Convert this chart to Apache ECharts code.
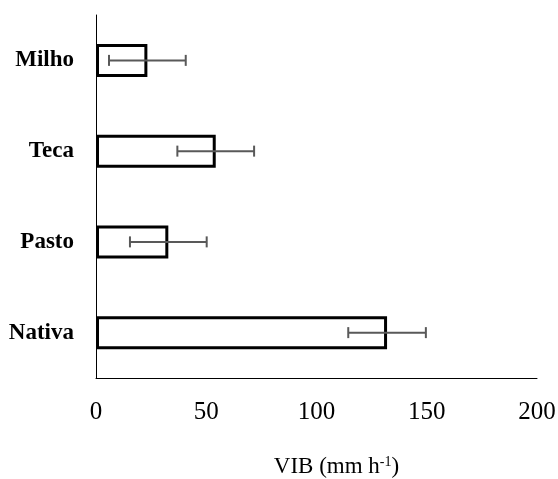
<!DOCTYPE html>
<html>
<head>
    <meta charset="utf-8">
    <title>VIB</title>
    <script src="https://cdn.jsdelivr.net/npm/echarts@6/dist/echarts.min.js"></script>
</head>
<body style="margin:0;background:#fff;">
    <div id="main" style="width:558px;height:479px;"></div>
    <script>
        // dados
        var categories = ['Milho', 'Teca', 'Pasto', 'Nativa'];
        var vibMean = [23.3, 54.3, 32.8, 132.0];
        var vibError = [17.4, 17.4, 17.4, 17.6];
        var xTicks = [0, 50, 100, 150, 200];

        var myChart = echarts.init(document.getElementById('main'));

        var errData = categories.map(function (c, i) {
            return [vibMean[i] - vibError[i], vibMean[i] + vibError[i], i];
        });

        var option = {
            animation: false,
            grid: { left: 96, right: 21, top: 15, bottom: 101, outerBoundsMode: 'none' },
            xAxis: {
                type: 'value',
                min: xTicks[0],
                max: xTicks[xTicks.length - 1],
                interval: xTicks[1] - xTicks[0],
                axisLine: { show: true, lineStyle: { color: '#000', width: 1 } },
                axisTick: { show: false },
                splitLine: { show: false },
                axisLabel: { color: '#000', fontFamily: 'Liberation Serif', fontSize: 25, margin: 22 },
                name: '{a|VIB (mm h}{s|-1}{a|)}',
                nameLocation: 'middle',
                nameGap: 77,
                nameTextStyle: {
                    padding: [0, 0, 0, 40],
                    rich: {
                        a: { color: '#000', fontFamily: 'Liberation Serif', fontSize: 23 },
                        s: { color: '#000', fontFamily: 'Liberation Serif', fontSize: 14, padding: [0, 0, 10, 0] }
                    }
                }
            },
            yAxis: {
                type: 'category',
                data: categories,
                inverse: true,
                axisLine: { show: true, lineStyle: { color: '#000', width: 1 } },
                axisTick: { show: false },
                axisLabel: { color: '#000', fontFamily: 'Liberation Serif', fontWeight: 'bold', fontSize: 23, margin: 22 }
            },
            series: [
                {
                    type: 'bar',
                    data: vibMean,
                    barWidth: 33,
                    itemStyle: { color: '#fff', borderColor: '#000', borderWidth: 3 }
                },
                {
                    type: 'custom',
                    data: errData,
                    renderItem: function (params, api) {
                        var lo = api.coord([api.value(0), api.value(2)]);
                        var hi = api.coord([api.value(1), api.value(2)]);
                        var h = 5.5;
                        var st = { stroke: '#595959', lineWidth: 2 };
                        return {
                            type: 'group',
                            children: [
                                { type: 'line', shape: { x1: lo[0], y1: lo[1], x2: hi[0], y2: hi[1] }, style: st },
                                { type: 'line', shape: { x1: lo[0], y1: lo[1] - h, x2: lo[0], y2: lo[1] + h }, style: st },
                                { type: 'line', shape: { x1: hi[0], y1: hi[1] - h, x2: hi[0], y2: hi[1] + h }, style: st }
                            ]
                        };
                    },
                    z: 10
                }
            ]
        };

        myChart.setOption(option);
    </script>
</body>
</html>
